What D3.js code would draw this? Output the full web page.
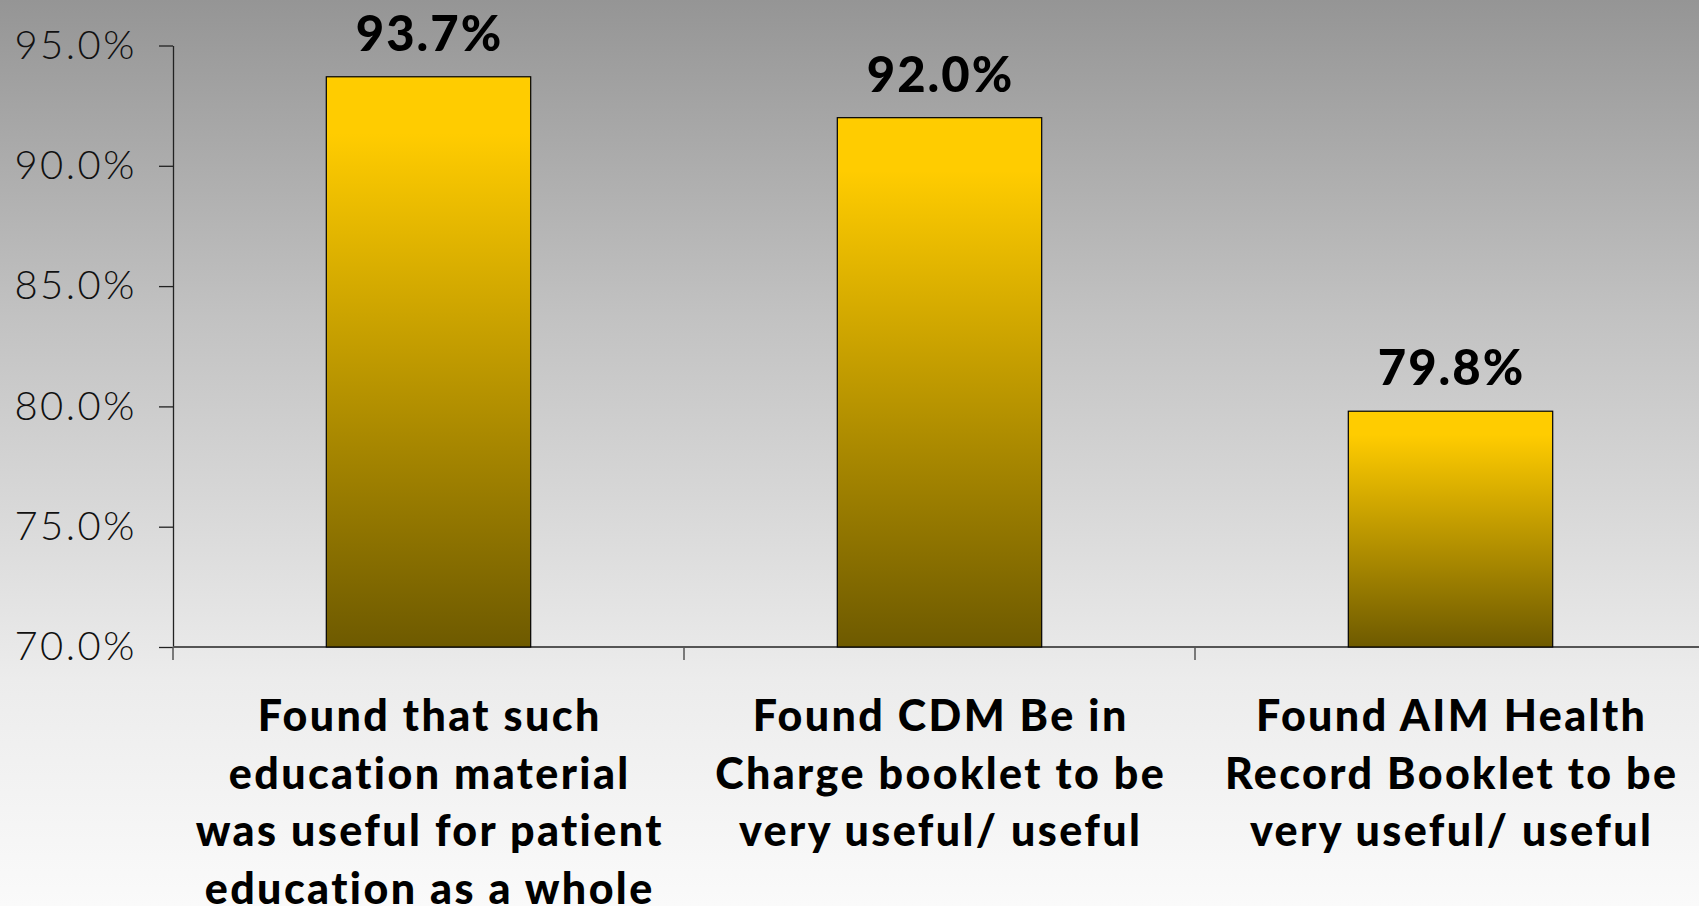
<!DOCTYPE html>
<html>
<head>
<meta charset="utf-8">
<script src="https://cdn.jsdelivr.net/npm/d3@7"></script>
<style>
  html, body { margin: 0; padding: 0; overflow: hidden; }
  svg { display: block; }
</style>
</head>
<body>
<div id="chart"></div>
<script>
const categories = [
  'Found that such education material was useful for patient education as a whole',
  'Found CDM Be in Charge booklet to be very useful/ useful',
  'Found AIM Health Record Booklet to be very useful/ useful'
];
const categoryLines = [
  ['Found that such', 'education material', 'was useful for patient', 'education as a whole'],
  ['Found CDM Be in', 'Charge booklet to be', 'very useful/ useful'],
  ['Found AIM Health', 'Record Booklet to be', 'very useful/ useful']
];
const values = [93.7, 92.0, 79.8];
const yTicks = [70, 75, 80, 85, 90, 95];

const width = 1699, height = 906;
const margin = { top: 45.5, left: 173, bottom: 259 };

const svg = d3.select('#chart').append('svg')
  .attr('width', width)
  .attr('height', height);

const defs = svg.append('defs');

// background gradient
const bg = defs.append('linearGradient')
  .attr('id', 'bgGrad')
  .attr('x1', 0).attr('y1', 0).attr('x2', 0).attr('y2', 1);
bg.append('stop').attr('offset', '0%').attr('stop-color', '#959595');
bg.append('stop').attr('offset', '35%').attr('stop-color', '#c2c2c2');
bg.append('stop').attr('offset', '75%').attr('stop-color', '#ececec');
bg.append('stop').attr('offset', '100%').attr('stop-color', '#fafafa');

// bar gradient
const bar = defs.append('linearGradient')
  .attr('id', 'barGrad')
  .attr('x1', 0).attr('y1', 0).attr('x2', 0).attr('y2', 1);
bar.append('stop').attr('offset', '0%').attr('stop-color', '#ffcc00');
bar.append('stop').attr('offset', '10%').attr('stop-color', '#ffcc00');
bar.append('stop').attr('offset', '100%').attr('stop-color', '#6e5a00');

svg.append('rect')
  .attr('width', width)
  .attr('height', height)
  .attr('fill', 'url(#bgGrad)');

const step = 511;
const x = d3.scaleBand()
  .domain(categories)
  .range([margin.left, margin.left + step * 3])
  .paddingInner(0.6)
  .paddingOuter(0.3);

const y = d3.scaleLinear()
  .domain([70, 95])
  .range([height - margin.bottom, margin.top]);

// Y axis
const yAxis = svg.append('g')
  .attr('transform', `translate(${margin.left},0)`)
  .call(d3.axisLeft(y).tickValues(yTicks).tickSize(14).tickSizeOuter(0).tickPadding(22)
    .tickFormat(d => d.toFixed(1) + '%'));
yAxis.select('.domain').attr('stroke', '#222').attr('stroke-width', 1.3);
yAxis.selectAll('.tick line').attr('stroke', '#222').attr('stroke-width', 1.3);
yAxis.selectAll('.tick text')
  .attr('font-family', 'Lato, sans-serif')
  .attr('font-weight', 300)
  .attr('font-size', '40px')
  .attr('letter-spacing', '2.5px')
  .attr('fill', '#111');

// X axis
const x0 = y(70);
const boundaries = categories.map(c => x(c) - x.step() * x.paddingInner() / 2);
boundaries[0] = margin.left;
const xAxis = svg.append('g');
xAxis.append('line')
  .attr('x1', margin.left).attr('x2', width)
  .attr('y1', x0).attr('y2', x0)
  .attr('stroke', '#555').attr('stroke-width', 2);
xAxis.selectAll('.xtick')
  .data(boundaries)
  .join('line')
  .attr('x1', d => d).attr('x2', d => d)
  .attr('y1', x0).attr('y2', x0 + 13)
  .attr('stroke', '#555').attr('stroke-width', 1.5);

// Bars
svg.selectAll('.bar')
  .data(values)
  .join('rect')
  .attr('x', (d, i) => x(categories[i]))
  .attr('y', d => y(d))
  .attr('width', x.bandwidth())
  .attr('height', d => y(70) - y(d))
  .attr('fill', 'url(#barGrad)')
  .attr('stroke', '#000')
  .attr('stroke-width', 1.2);

// Value labels
svg.selectAll('.val')
  .data(values)
  .join('text')
  .attr('x', (d, i) => x(categories[i]) + x.bandwidth() / 2 + 1)
  .attr('y', d => y(d) - 26)
  .attr('text-anchor', 'middle')
  .attr('font-family', 'Lato, sans-serif')
  .attr('font-weight', 900)
  .attr('font-size', '49px')
  .attr('letter-spacing', '2px')
  .attr('fill', '#000')
  .text(d => d.toFixed(1) + '%');

// Category labels
categoryLines.forEach((lines, i) => {
  const cx = x(categories[i]) + x.bandwidth() / 2 + 1.2;
  const t = svg.append('text')
    .attr('x', cx)
    .attr('y', 731)
    .attr('text-anchor', 'middle')
    .attr('font-family', 'Lato, sans-serif')
    .attr('font-weight', 900)
    .attr('font-size', '43px')
    .attr('letter-spacing', '2.4px')
    .attr('fill', '#000');
  lines.forEach((ln, j) => {
    t.append('tspan')
      .attr('x', cx)
      .attr('dy', j === 0 ? 0 : 57.5)
      .text(ln);
  });
});
</script>
</body>
</html>
